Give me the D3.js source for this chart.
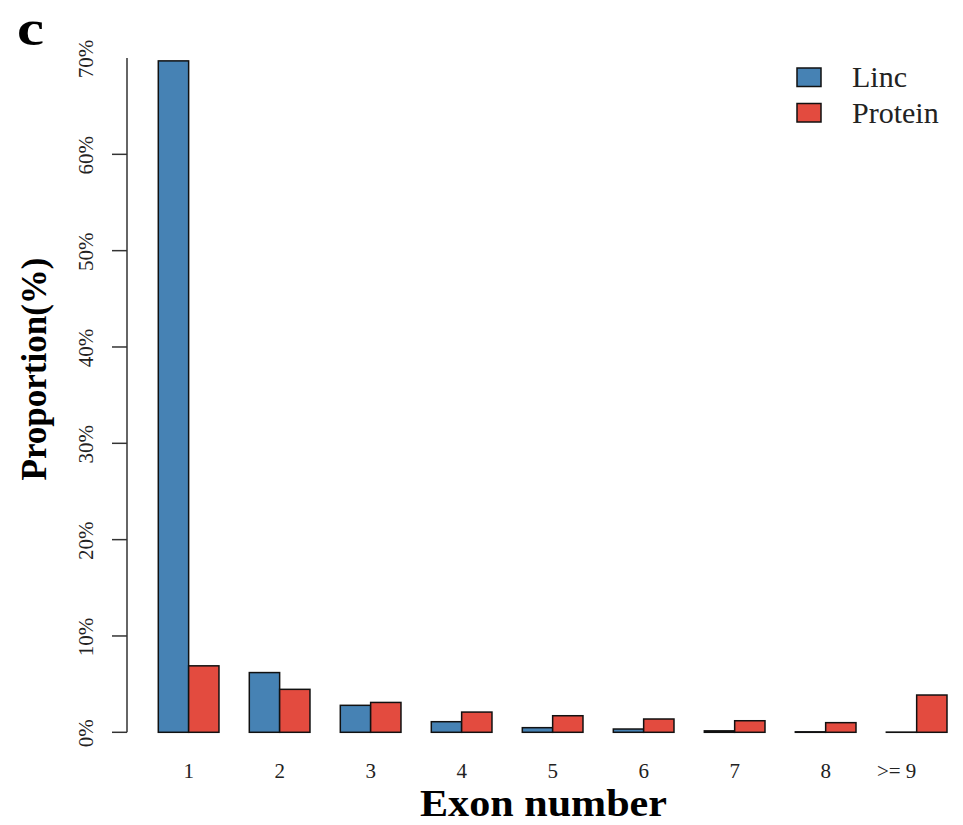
<!DOCTYPE html>
<html><head><meta charset="utf-8">
<script src="https://cdn.jsdelivr.net/npm/d3@7"></script>
<style>body{margin:0;background:#fff}svg{display:block}text{font-family:"Liberation Serif","Times New Roman",serif}</style>
</head><body>
<svg id="c" width="963" height="825"></svg>
<script>
const categories = ["1","2","3","4","5","6","7","8",">= 9"];
const seriesNames = ["Linc","Protein"];
const lincValues = [69.7, 6.2, 2.8, 1.1, 0.48, 0.34, 0.15, 0.05, 0.02];
const proteinValues = [6.9, 4.46, 3.1, 2.1, 1.72, 1.38, 1.2, 1.0, 3.87];
const yTicks = [0,10,20,30,40,50,60,70];
const colors = ["#4682B4","#E34B3F"];

const svg = d3.select("#c");
const x = d3.scaleBand().domain(categories).range([158.3, 947]).paddingInner(1/3).paddingOuter(0);
const xs = d3.scaleBand().domain(seriesNames).range([0, x.bandwidth()]);
const y = d3.scaleLinear().domain([0,70]).range([732.3, 58]);

const data = categories.map((c,i)=>({c, vals:[lincValues[i], proteinValues[i]]}));
const g = svg.append("g");
g.selectAll("g.grp").data(data).join("g").attr("class","grp")
 .attr("transform", d=>`translate(${x(d.c)},0)`)
 .selectAll("rect").data(d=>d.vals.map((v,j)=>({v, s:seriesNames[j], j})))
 .join("rect")
 .attr("x", d=>xs(d.s)).attr("width", xs.bandwidth())
 .attr("y", d=>y(d.v)).attr("height", d=>y(0)-y(d.v))
 .attr("fill", d=>colors[d.j]).attr("stroke","#111").attr("stroke-width",1.5);

// y axis
const ya = svg.append("g").attr("transform","translate(127,0)");
ya.append("line").attr("x1",0).attr("x2",0).attr("y1",y(70)).attr("y2",y(0)).attr("stroke","#333").attr("stroke-width",1.5);
ya.selectAll("line.t").data(yTicks.filter(t=>t<70)).join("line").attr("class","t")
 .attr("x1",-15).attr("x2",0).attr("y1",d=>y(d)).attr("y2",d=>y(d)).attr("stroke","#333").attr("stroke-width",1.5);
svg.selectAll("text.yl").data(yTicks).join("text").attr("class","yl")
 .attr("transform", d=>`translate(93,${y(d)+1}) rotate(-90)`)
 .attr("text-anchor","middle").attr("font-size",21).attr("fill","#222")
 .text(d=>d+"%");

// x labels
svg.selectAll("text.xl").data(categories).join("text").attr("class","xl")
 .attr("x", d=>x(d)+x.bandwidth()/2).attr("y",778)
 .attr("dx", (d,i)=> i===categories.length-1 ? -20 : 0)
 .attr("text-anchor","middle").attr("font-size",21).attr("fill","#222")
 .text(d=>d);

// titles
svg.append("text").attr("transform","translate(46,369) rotate(-90)").attr("text-anchor","middle")
 .attr("font-size",35).attr("font-weight","bold").text("Proportion(%)");
svg.append("text").attr("x",420).attr("y",816)
 .attr("font-size",37).attr("font-weight","bold")
 .attr("textLength",247).attr("lengthAdjust","spacingAndGlyphs").text("Exon number");
svg.append("text").attr("x",17).attr("y",45).attr("font-size",50).attr("font-weight","bold")
 .attr("textLength",27).attr("lengthAdjust","spacingAndGlyphs").text("c");

// legend
const lg = svg.append("g");
seriesNames.forEach((s,i)=>{
  lg.append("rect").attr("x",797).attr("y",68+i*35.5).attr("width",24).attr("height",18.5)
    .attr("fill",colors[i]).attr("stroke","#111").attr("stroke-width",1.5);
  lg.append("text").attr("x",852).attr("y",87+i*35.5).attr("font-size",30).attr("fill","#222").text(s);
});
</script>
</body></html>
